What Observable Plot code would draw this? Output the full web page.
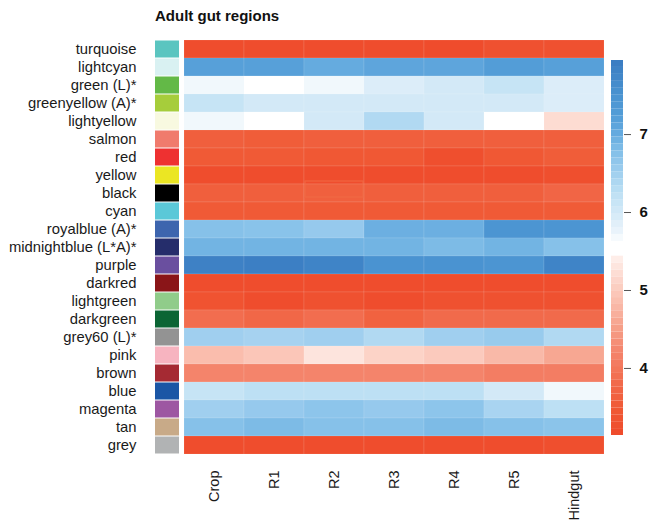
<!DOCTYPE html>
<html>
<head>
<meta charset="utf-8">
<script src="https://cdn.jsdelivr.net/npm/d3@7"></script>
<script src="https://cdn.jsdelivr.net/npm/@observablehq/plot@0.6"></script>
<style>
  body { margin: 0; background: #fff; }
  #chart { position: relative; width: 654px; height: 522px; font-family: "Liberation Sans", Arial, Helvetica, sans-serif; }
  #chart svg { position: absolute; left: 0; top: 0; overflow: visible; }
  #title { position: absolute; left: 155px; top: 7px; font-weight: bold; font-size: 15px; color: #111; }
</style>
</head>
<body>
<div id="chart"><div id="title">Adult gut regions</div></div>
<script>
// Co-expression modules (rows) and their module colours
const modules = [
  "turquoise", "lightcyan", "green (L)*", "greenyellow (A)*", "lightyellow",
  "salmon", "red", "yellow", "black", "cyan", "royalblue (A)*",
  "midnightblue (L*A)*", "purple", "darkred", "lightgreen", "darkgreen",
  "grey60 (L)*", "pink", "brown", "blue", "magenta", "tan", "grey"
];
const moduleColors = [
  "#5bc5c0", "#d9f1f2", "#63b947", "#a6cd3b", "#f8f9e0",
  "#f07b6d", "#ee3131", "#ebe623", "#000000", "#5bc8d8", "#3d65ae",
  "#252d6b", "#6a4f9f", "#8a1518", "#90cc8a", "#0b6534",
  "#939393", "#f7b4c0", "#a52a33", "#1b56a5", "#9d57a2", "#c8aa88", "#b1b3b4"
];

// Gut regions (columns)
const regions = ["Crop", "R1", "R2", "R3", "R4", "R5", "Hindgut"];

// Module expression per region, in module order
const crop    = [3.2, 7.2, 5.7, 6.15, 5.7, 3.6, 3.5, 3.2, 3.6, 3.5, 6.75, 6.9, 7.85, 3.2, 3.35, 3.85, 6.5, 4.85, 4.2, 6.15, 6.5, 6.75, 3.2];
const r1      = [3.2, 7.2, 5.6, 6.0, 5.6, 3.55, 3.5, 3.2, 3.6, 3.5, 6.72, 6.9, 7.9, 3.2, 3.2, 3.75, 6.45, 4.95, 4.2, 6.25, 6.6, 6.82, 3.2];
const r2      = [3.2, 7.0, 5.7, 6.0, 6.0, 3.6, 3.45, 3.2, 3.62, 3.5, 6.6, 6.9, 7.8, 3.2, 3.3, 3.85, 6.5, 5.3, 4.2, 6.25, 6.68, 6.75, 3.2];
const r3      = [3.2, 7.1, 5.9, 6.0, 6.35, 3.6, 3.45, 3.2, 3.6, 3.5, 6.95, 6.9, 7.5, 3.2, 3.2, 3.65, 6.35, 5.1, 4.2, 6.25, 6.6, 6.75, 3.2];
const r4      = [3.18, 7.1, 6.0, 6.0, 6.0, 3.6, 3.25, 3.2, 3.6, 3.5, 6.95, 6.82, 7.5, 3.2, 3.3, 3.8, 6.5, 5.0, 4.2, 6.25, 6.68, 6.82, 3.2];
const r5      = [3.3, 7.25, 6.15, 6.0, 5.6, 3.6, 3.45, 3.2, 3.6, 3.5, 7.45, 6.9, 7.45, 3.2, 3.3, 3.8, 6.58, 4.8, 4.1, 6.0, 6.42, 6.75, 3.2];
const hindgut = [3.3, 7.2, 5.9, 5.9, 5.2, 3.6, 3.55, 3.25, 3.72, 3.52, 7.45, 6.75, 7.8, 3.2, 3.3, 3.8, 6.35, 4.6, 4.1, 5.7, 6.25, 6.7, 3.25];
const regionValues = [crop, r1, r2, r3, r4, r5, hindgut];

// Highlighted cell
const highlighted = [{module: "black", region: "R2"}];

// Colour key: a red half and a blue half, with a gap between them
const redRange  = [3.14, 5.44];
const blueRange = [5.63, 7.95];
const keyTicks  = [4, 5, 6, 7];

// Diverging palette: red for low, blue for high
const rampDomain = [3.14, 3.5, 3.75, 4.0, 4.25, 4.5, 4.75, 5.0, 5.25, 5.45,
                    5.6, 5.75, 6.0, 6.25, 6.5, 6.75, 7.0, 7.25, 7.5, 7.95];
const rampColors = ["#ef4a2b", "#f05a36", "#f16747", "#f3775b", "#f4876f", "#f69e87", "#f9b5a3", "#fbcabd", "#fde0d7", "#fef2ee",
                    "#ffffff", "#eaf4fb", "#d3e9f7", "#bde0f4", "#a0cfef", "#86c1e9", "#65abdf", "#539dd7", "#4a93d1", "#3a7cc2"];

const W = 654, H = 522;
const font = {fontFamily: '"Liberation Sans", Arial, Helvetica, sans-serif', fontSize: "14.8px", color: "#1a1a1a", background: "transparent"};
const colorScale = {type: "linear", domain: rampDomain, range: rampColors, clamp: true};

const cells = regions.flatMap((region, j) =>
  modules.map((module, i) => ({module, region, value: regionValues[j][i]})));
const swatches = modules.map((module, i) => ({module, color: moduleColors[i]}));

const chart = document.getElementById("chart");

// Module labels and colour swatches
chart.append(Plot.plot({
  width: W, height: H,
  marginTop: 34, marginBottom: 62, marginLeft: 155, marginRight: W - 179,
  style: font,
  y: {domain: modules, padding: 0, tickSize: 0, tickPadding: 19, label: null},
  color: {type: "identity"},
  marks: [
    Plot.cell(swatches, {y: "module", fill: "color", insetTop: 0.5, insetBottom: 0.5})
  ]
}));

// Heatmap
chart.append(Plot.plot({
  width: W, height: H,
  marginTop: 34, marginBottom: 62, marginLeft: 183, marginRight: W - 605,
  style: {...font, fontSize: "14.5px"},
  x: {domain: regions, padding: 0, tickSize: 0, tickPadding: 10, tickRotate: -90, label: null},
  y: {domain: modules, padding: 0, axis: null},
  color: colorScale,
  marks: [
    Plot.cell(cells, {x: "region", y: "module", fill: "value", stroke: "#ffffff", strokeOpacity: 0.18, strokeWidth: 0.6}),
    Plot.cell(highlighted, {x: "region", y: "module", fill: "none", stroke: "#f06a45", strokeWidth: 1.2, strokeOpacity: 0.8, dy: -4, inset: 1})
  ]
}));

// Colour key
const steps = 26;
const keySteps = [redRange, blueRange].flatMap(([lo, hi]) =>
  d3.range(steps).map(k => {
    const y1 = lo + (hi - lo) * k / steps, y2 = lo + (hi - lo) * (k + 1) / steps;
    return {y1, y2, v: (y1 + y2) / 2};
  }));

chart.append(Plot.plot({
  width: W, height: H,
  marginTop: 60, marginBottom: H - 435, marginLeft: 611, marginRight: W - 623,
  style: font,
  y: {domain: [redRange[0], blueRange[1]], axis: null},
  color: colorScale,
  marks: [
    Plot.rect(keySteps, {y1: "y1", y2: "y2", fill: "v"}),
    Plot.axisY({anchor: "right", ticks: keyTicks, tickFormat: "d", tickSize: 7, tickPadding: 9, stroke: "#555", fill: "#111",
                fontWeight: "bold", fontSize: 15, label: null})
  ]
}));
</script>
</body>
</html>
